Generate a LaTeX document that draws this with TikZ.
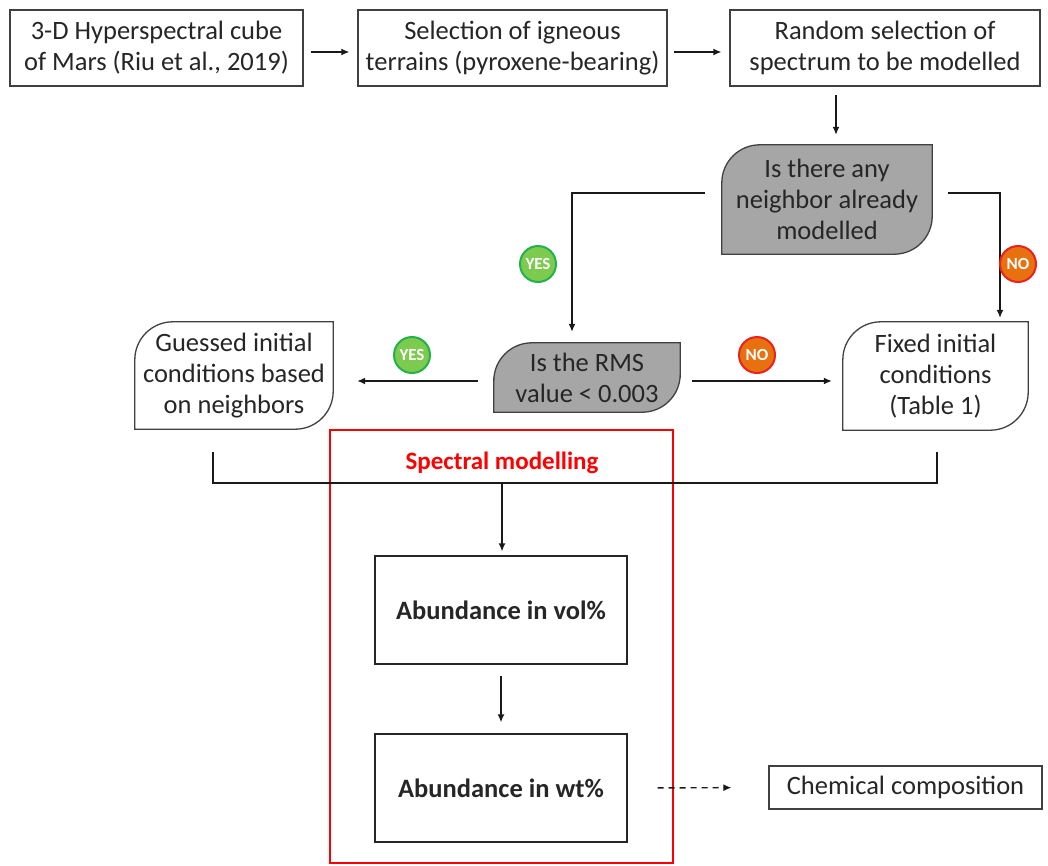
\documentclass[tikz,border=0pt]{standalone}
\usepackage{fontspec}
\setmainfont{Carlito}
\usetikzlibrary{arrows.meta,calc}
\definecolor{boxgrey}{HTML}{404040}
\definecolor{qfill}{HTML}{A6A6A6}
\definecolor{yesfill}{HTML}{7DCB4E}
\definecolor{yesline}{HTML}{22B14C}
\definecolor{nofill}{HTML}{E8700F}
\definecolor{noline}{HTML}{E8231E}
\tikzset{
  x=1pt,y=-1pt,
  txt/.style={font=\fontsize{26.5}{31}\selectfont, text=black!85, align=center, inner sep=0pt},
  plainbox/.style={txt, draw=boxgrey, line width=1.3pt, fill=white},
  shapebox/.style={txt},
  boldbox/.style={plainbox, font=\fontsize{26.5}{31}\selectfont\bfseries, draw=black!85},
  conn/.style={line width=1.4pt, draw=black!90},
  arr/.style={conn, -{Latex[length=8pt,width=7pt]}},
  badge/.style={circle, minimum size=36pt, inner sep=0pt, line width=2pt, text=white, font=\fontsize{17}{17}\selectfont\bfseries},
  yes/.style={badge, fill=yesfill, draw=yesline},
  no/.style={badge, fill=nofill, draw=noline},
}
\newcommand{\leafshape}[2]{%
  \draw[line width=1.3pt, draw=boxgrey, fill=#2]
    (#1.west) [rounded corners=38pt] -- (#1.north west) -- (#1.north)
    [sharp corners] -- (#1.north east) -- (#1.east)
    [rounded corners=38pt] -- (#1.south east) -- (#1.south)
    [sharp corners] -- (#1.south west) -- cycle;}
\begin{document}
\begin{tikzpicture}
\useasboundingbox (0,0) rectangle (1048,865);
\fill[white] (0,0) rectangle (1048,865);

% top row
\node[plainbox, minimum width=293pt, minimum height=76pt] (b1) at (156.5,48) {3-D Hyperspectral cube\\of Mars (Riu et al., 2019)};
\node[plainbox, minimum width=309pt, minimum height=76pt] (b2) at (512.5,48) {Selection of igneous\\terrains (pyroxene-bearing)};
\node[plainbox, minimum width=310pt, minimum height=76pt] (b3) at (885,48) {Random selection of\\spectrum to be modelled};

% decision and condition shapes
\node[shapebox, minimum width=210pt, minimum height=109pt] (q1) at (827,199.5) {};
\leafshape{q1}{qfill}
\node[txt] at (q1) {Is there any\\neighbor already\\modelled};

\node[shapebox, minimum width=186pt, minimum height=69pt] (q2) at (587,377.5) {};
\leafshape{q2}{qfill}
\node[txt] at (q2) {Is the RMS\\value {<} 0.003};

\node[shapebox, minimum width=198pt, minimum height=107pt] (g) at (234,375.5) {};
\leafshape{g}{white}
\node[txt] at (g) {Guessed initial\\conditions based\\on neighbors};

\node[shapebox, minimum width=185pt, minimum height=108pt] (f) at (935.5,376) {};
\leafshape{f}{white}
\node[txt] at (f) {Fixed initial\\conditions\\(Table 1)};

% spectral modelling frame
\draw[red, line width=1.6pt] (330,430) rectangle (673,863);
\node[txt, text=red, font=\fontsize{25}{30}\selectfont\bfseries] (sm) at (502,463) {Spectral modelling};

\node[boldbox, minimum width=252pt, minimum height=108pt] (vol) at (501,610) {Abundance in vol\%};
\node[boldbox, minimum width=252pt, minimum height=108pt] (wt) at (501,788) {Abundance in wt\%};
\node[plainbox, minimum width=273pt, minimum height=43pt] (chem) at (905.5,787.5) {Chemical composition};

% connectors
\draw[arr, shorten <=7pt, shorten >=8pt] (b1.east |- 0,52) -- (b2.west |- 0,52);
\draw[arr, shorten <=6pt, shorten >=8pt] (b2.east |- 0,52) -- (b3.west |- 0,52);
\draw[arr, shorten <=9pt, shorten >=10pt] (836,86) coordinate (b3s) -- (b3s |- q1.north);

\coordinate (q1l) at ($(q1.west)+(-17,-6.5)$);
\coordinate (q1r) at ($(q1.east)+(16,-6.5)$);
\draw[arr, shorten >=11pt] (q1l) -- (572,193) coordinate (k1) -- (k1 |- q2.north);
\draw[arr, shorten >=4pt] (q1r) -- (1000,193) coordinate (k2) -- (k2 |- f.north);

\draw[arr, shorten <=16pt, shorten >=24pt] (q2.west |- 0,381) -- (g.east |- 0,381);
\draw[arr, shorten <=12pt, shorten >=11pt] (q2.east |- 0,381) -- (f.west |- 0,381);

\node[yes] (y1) at (538,264) {YES};
\node[no] (n1) at (1018,264) {NO};
\node[yes] (y2) at (412,355) {YES};
\node[no] (n2) at (757,355) {NO};

\coordinate (bl) at (213,452);
\coordinate (br) at (937,452);
\draw[conn] (bl) -- (213,483) -- (937,483) -- (br);
\draw[arr, shorten >=4pt] (502,483) coordinate (bm) -- (bm |- vol.north);
\draw[arr, shorten <=11pt, shorten >=11pt] (vol.south) -- (wt.north);
\draw[arr, dashed, dash pattern=on 6pt off 5pt, shorten <=30pt, shorten >=37pt] (wt.east) -- (chem.west);
\end{tikzpicture}
\end{document}
